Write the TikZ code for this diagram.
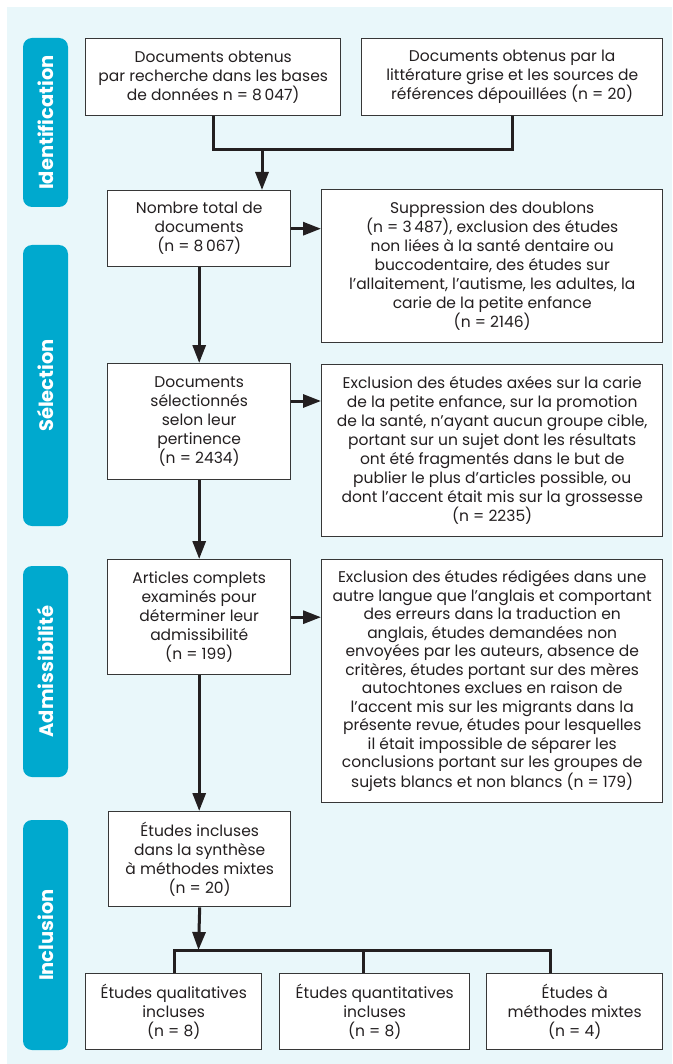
\documentclass[tikz,border=0pt]{standalone}
\usepackage{fontspec}
\setmainfont{Poppins}
\usetikzlibrary{arrows.meta,calc}
\definecolor{panel}{RGB}{233,247,250}
\definecolor{tabblue}{RGB}{0,169,206}
\definecolor{ink}{RGB}{35,31,32}
\definecolor{frame}{RGB}{55,55,55}
\begin{document}
\begin{tikzpicture}[x=1pt,y=-1pt,
  box/.style={draw=frame, line width=1.4pt, fill=white, anchor=north west,
    align=center, inner sep=0pt, text=ink, font=\fontsize{15.5}{19}\selectfont},
  tab/.style={fill=tabblue, rounded corners=9pt, rotate=90, minimum height=45pt,
    inner sep=0pt, text=white, font=\bfseries\fontsize{19.5}{20}\selectfont},
  link/.style={draw=ink, line width=3pt},
  arr/.style={link, -{Triangle[length=18pt,width=13pt]}},
]
% page and tinted panel
\path[fill=white] (0,0) rectangle (672,1064);
\path[fill=panel] (7,7) rectangle (672,1064);

% phase tabs
\node[tab, minimum width=169pt] (tabid) at (45.5,122.5) {Identification};
\node[tab, minimum width=281pt] (tabsel) at (45.5,385.5) {Sélection};
\node[tab, minimum width=211pt] (tabadm) at (45.5,671.5) {Admissibilité};
\node[tab, minimum width=230pt] (tabinc) at (45.5,935) {Inclusion};

% boxes
\node[box, minimum width=255pt, minimum height=77pt] (A) at (85,38)
  {Documents obtenus\\par recherche dans les bases\\de données n = 8\,047)};
\node[box, minimum width=301pt, minimum height=77pt] (B) at (361,38)
  {Documents obtenus par la\\littérature grise et les sources de\\références dépouillées (n = 20)};
\node[box, minimum width=183pt, minimum height=76pt] (C) at (107,190)
  {Nombre total de\\documents\\(n = 8\,067)};
\node[box, minimum width=341pt, minimum height=153pt] (D) at (321,189)
  {Suppression des doublons\\(n = 3\,487), exclusion des études\\non liées à la santé dentaire ou\\buccodentaire, des études sur\\l’allaitement, l’autisme, les adultes, la\\carie de la petite enfance\\(n = 2146)};
\node[box, minimum width=183pt, minimum height=116pt] (E) at (107,363)
  {Documents\\sélectionnés\\selon leur\\pertinence\\(n = 2434)};
\node[box, minimum width=341pt, minimum height=172pt] (F) at (321,364)
  {Exclusion des études axées sur la carie\\de la petite enfance, sur la promotion\\de la santé, n’ayant aucun groupe cible,\\portant sur un sujet dont les résultats\\ont été fragmentés dans le but de\\publier le plus d’articles possible, ou\\dont l’accent était mis sur la grossesse\\(n = 2235)};
\node[box, minimum width=183pt, minimum height=115pt] (G) at (107,559)
  {Articles complets\\examinés pour\\déterminer leur\\admissibilité\\(n = 199)};
\node[box, minimum width=341pt, minimum height=243pt, font=\fontsize{15.5}{18.5}\selectfont] (H) at (321,559)
  {Exclusion des études rédigées dans une\\autre langue que l’anglais et comportant\\des erreurs dans la traduction en\\anglais, études demandées non\\envoyées par les auteurs, absence de\\critères, études portant sur des mères\\autochtones exclues en raison de\\l’accent mis sur les migrants dans la\\présente revue, études pour lesquelles\\il était impossible de séparer les\\conclusions portant sur les groupes de\\sujets blancs et non blancs (n = 179)};
\node[box, minimum width=182pt, minimum height=95pt] (I) at (108,811)
  {Études incluses\\dans la synthèse\\à méthodes mixtes\\(n = 20)};
\node[box, minimum width=176pt, minimum height=76pt] (J) at (85,973)
  {Études qualitatives\\incluses\\(n = 8)};
\node[box, minimum width=190pt, minimum height=76pt] (K) at (279,973)
  {Études quantitatives\\incluses\\(n = 8)};
\node[box, minimum width=176pt, minimum height=76pt] (L) at (486,973)
  {Études à\\méthodes mixtes\\(n = 4)};

% merge of the two sources
\coordinate (merge) at (262,150);
\draw[link] (A.south) -- (A.south |- merge) -- (B.south |- merge) -- (B.south);
\draw[arr] (merge) -- (merge |- C.north);

% main flow and exclusions
\draw[arr] (C.east) -- (C.east -| D.west);
\draw[arr] (C.south) -- (C.south |- E.north);
\coordinate (eout) at ($(E.north east)+(0,38)$);
\draw[arr] (eout) -- (eout -| F.west);
\draw[arr] (E.south) -- (E.south |- G.north);
\draw[arr] (G.east) -- (G.east -| H.west);
\draw[arr] (G.south) -- (G.south |- I.north);

% split into study types
\coordinate (split) at (198.5,950);
\coordinate (kJ) at (174,950);
\coordinate (kK) at (363,950);
\coordinate (kL) at (550,950);
\draw[arr] (I.south) -- (split);
\draw[link] (kJ |- J.north) -- (kJ) -- (kL) -- (kL |- L.north);
\draw[link] (kK) -- (kK |- K.north);
\end{tikzpicture}
\end{document}
